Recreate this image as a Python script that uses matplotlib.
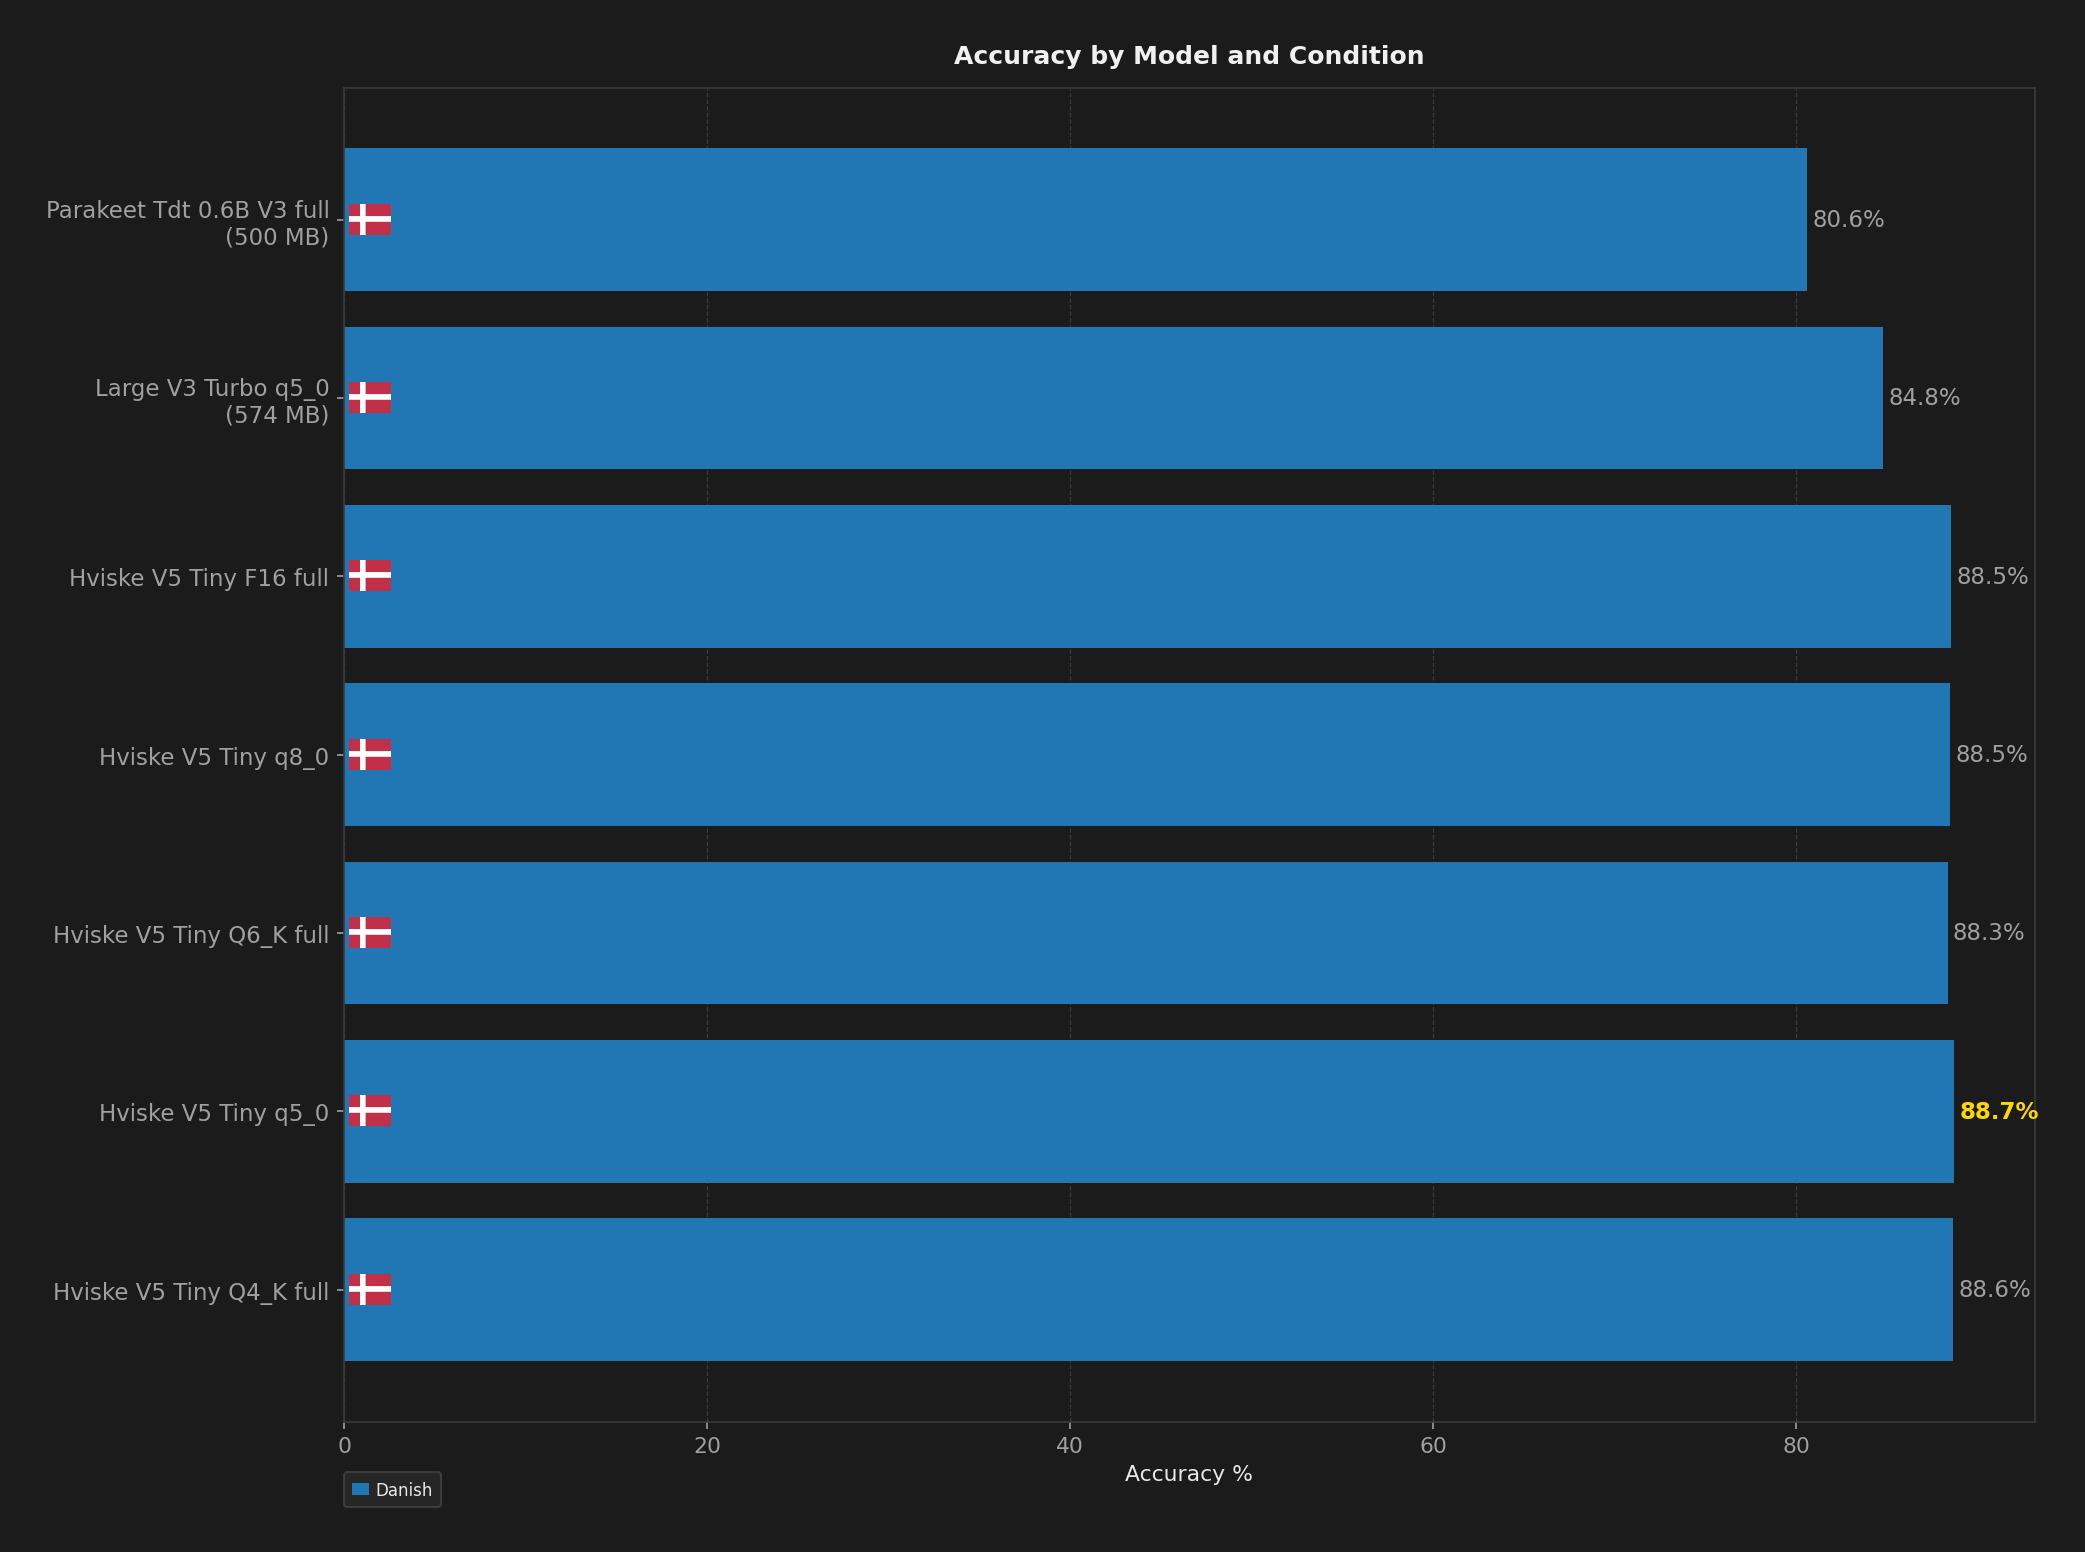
import matplotlib
matplotlib.use("Agg")
import matplotlib.pyplot as plt
import numpy as np
from matplotlib.offsetbox import OffsetImage, AnnotationBbox

models = ["Parakeet Tdt 0.6B V3 full\n(500 MB)",
          "Large V3 Turbo q5_0\n(574 MB)",
          "Hviske V5 Tiny F16 full",
          "Hviske V5 Tiny q8_0",
          "Hviske V5 Tiny Q6_K full",
          "Hviske V5 Tiny q5_0",
          "Hviske V5 Tiny Q4_K full"]
accuracy = [80.6, 84.8, 88.54, 88.48, 88.34, 88.72, 88.62]
condition = "Danish"

bg = "#1b1b1b"
bar_col = "#2077b4"
grey = "#a0a0a0"

plt.rcParams["font.family"] = ["DejaVu Sans"]
fig, ax = plt.subplots(figsize=(13.9, 10.353), dpi=150)
fig.patch.set_facecolor(bg)
ax.set_facecolor(bg)

y = np.arange(len(models))
ax.barh(y, accuracy, height=0.8, color=bar_col, label=condition, zorder=2)
ax.set_yticks(y)
ax.set_yticklabels(models, fontsize=11, color=grey)
ax.invert_yaxis()
ax.set_xlim(0, max(accuracy) * 1.05)

# little danish flag at the start of each bar
flag = np.ones((28, 38, 3))
flag[:, :] = [0.76, 0.19, 0.28]
flag[11:16, :] = 1.0
flag[:, 10:15] = 1.0
for i in y:
    ab = AnnotationBbox(OffsetImage(flag, zoom=0.52), (0.3, i), box_alignment=(0, 0.5),
                        frameon=False, zorder=3)
    ax.add_artist(ab)

best = int(np.argmax(accuracy))
for i, v in enumerate(accuracy):
    if i == best:
        ax.text(v + 0.3, i, "{0:.1f}%".format(v), va="center", ha="left",
                fontsize=11, color="#ffd700", fontweight="bold")
    else:
        ax.text(v + 0.3, i, "{0:.1f}%".format(v), va="center", ha="left",
                fontsize=11, color=grey)

ax.set_title("Accuracy by Model and Condition", color="#f0f0f0", fontsize=12,
             fontweight="bold", pad=12)
ax.set_xlabel("Accuracy %", color="#e8e8e8", fontsize=10.5)
ax.tick_params(axis="x", colors=grey, labelsize=10.5)
ax.tick_params(axis="y", colors=grey)
for s in ax.spines.values():
    s.set_color("#3a3a3a")
ax.grid(axis="x", color="#3a3a3a", linestyle="--", linewidth=0.6, zorder=0)
ax.set_axisbelow(True)

leg = ax.legend(loc="upper left", bbox_to_anchor=(0, -0.038), fontsize=8,
                facecolor="#2a2a2a", edgecolor="#444444", handlelength=1,
                handletextpad=0.4, borderpad=0.5, borderaxespad=0)
for t in leg.get_texts():
    t.set_color("#e8e8e8")

plt.subplots_adjust(left=0.165, right=0.976, top=0.943, bottom=0.084)
plt.savefig("out.png", facecolor=bg)
